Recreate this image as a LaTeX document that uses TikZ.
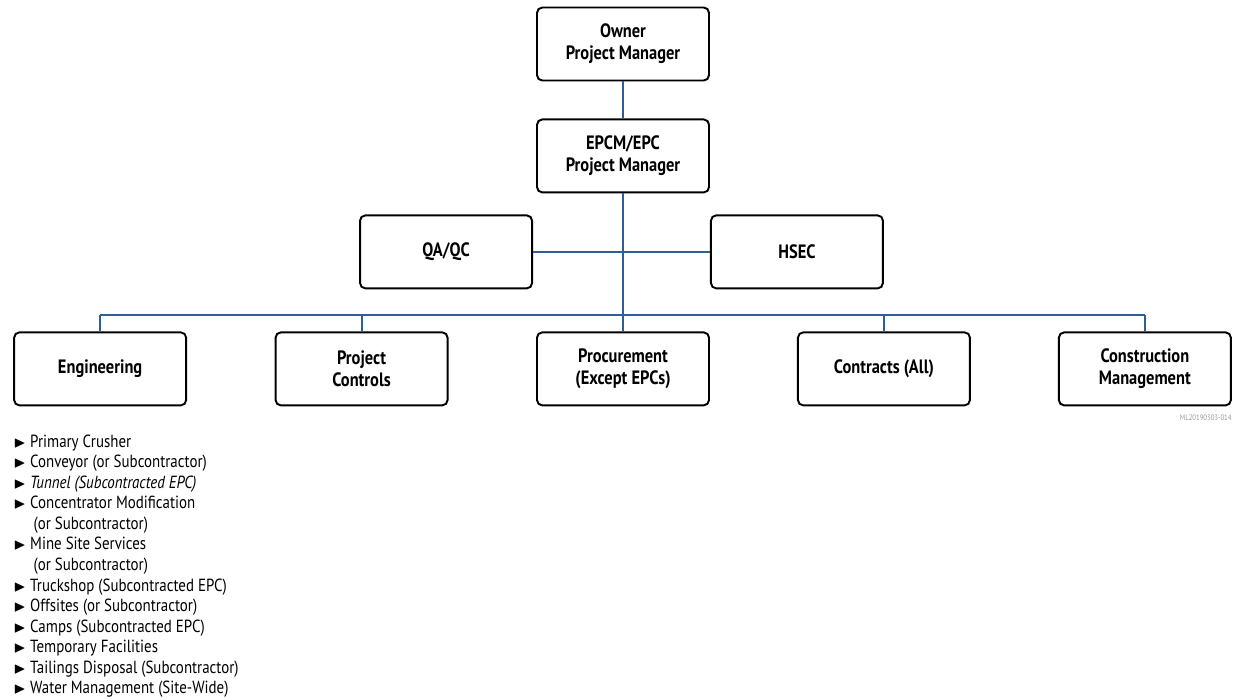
\documentclass[tikz,border=0pt]{standalone}
\usepackage{amssymb}
\usepackage{fontspec}
\setmainfont{PT Sans}[FakeStretch=0.85]
\usetikzlibrary{positioning}
\definecolor{linkblue}{RGB}{45,95,150}
\definecolor{taggray}{RGB}{150,150,150}
\newcommand{\scopebullet}{{\fontsize{9}{9}\selectfont$\blacktriangleright$}}

\begin{document}
\begin{tikzpicture}[
    block/.style={rectangle, draw, line width=1.1pt, rounded corners=3pt, minimum height=1.46cm, minimum width=3.44cm, align=center, font=\fontsize{11}{12.5}\selectfont\bfseries},
    link/.style={draw=linkblue, line width=1.1pt},
    tag/.style={font=\fontsize{4.5}{5}\selectfont, text=taggray, inner sep=0pt}
]
\useasboundingbox (0,0) rectangle (24.7,-14);

% === TOP OF THE CHART ===
\node[block] (owner) at (12.46,-0.88) {Owner \\ Project Manager};
\node[block, below=0.74cm of owner] (epcm) {EPCM/EPC \\ Project Manager};
\node[block, below left=0.42cm and 0.06cm of epcm] (qaqc) {QA/QC};
\node[block, below right=0.42cm and 0cm of epcm] (hsec) {HSEC};

% === FUNCTIONS ===
\node[block, below=2.76cm of epcm] (proc) {Procurement \\ (Except EPCs)};
\node[block, left=1.75cm of proc] (ctrl) {Project \\ Controls};
\node[block, left=1.75cm of ctrl] (eng) {Engineering};
\node[block, right=1.74cm of proc] (contr) {Contracts (All)};
\node[block, right=1.74cm of contr] (cm) {Construction \\ Management};

% Connections
\draw[link] (owner) -- (epcm);
\draw[link] (qaqc) -- (hsec);
\draw[link] (epcm.south) -- (proc.north);
\draw[link] ([yshift=0.32cm]eng.north) -- ([yshift=0.32cm]cm.north);
\foreach \n in {eng, ctrl, contr, cm}
    \draw[link] (\n.north) -- ++(0,0.32);

\node[tag, below left=0.16cm and 0cm of cm.south east] (ref) {ML20190303-014};

% === ENGINEERING SCOPE ===
\node[anchor=north west, inner sep=0pt, font=\fontsize{10}{11.7}\selectfont, align=left] (scope) at ([yshift=-0.52cm]eng.south west) {%
\begin{tabular}{@{}l@{\hspace{2.5pt}}l@{}}
\scopebullet & Primary Crusher \\
\scopebullet & Conveyor (or Subcontractor) \\
\scopebullet & \textit{Tunnel (Subcontracted EPC)} \\
\scopebullet & Concentrator Modification \\
 & \hspace{2pt}(or Subcontractor) \\
\scopebullet & Mine Site Services \\
 & \hspace{2pt}(or Subcontractor) \\
\scopebullet & Truckshop (Subcontracted EPC) \\
\scopebullet & Offsites (or Subcontractor) \\
\scopebullet & Camps (Subcontracted EPC) \\
\scopebullet & Temporary Facilities \\
\scopebullet & Tailings Disposal (Subcontractor) \\
\scopebullet & Water Management (Site-Wide)
\end{tabular}};

\end{tikzpicture}
\end{document}
